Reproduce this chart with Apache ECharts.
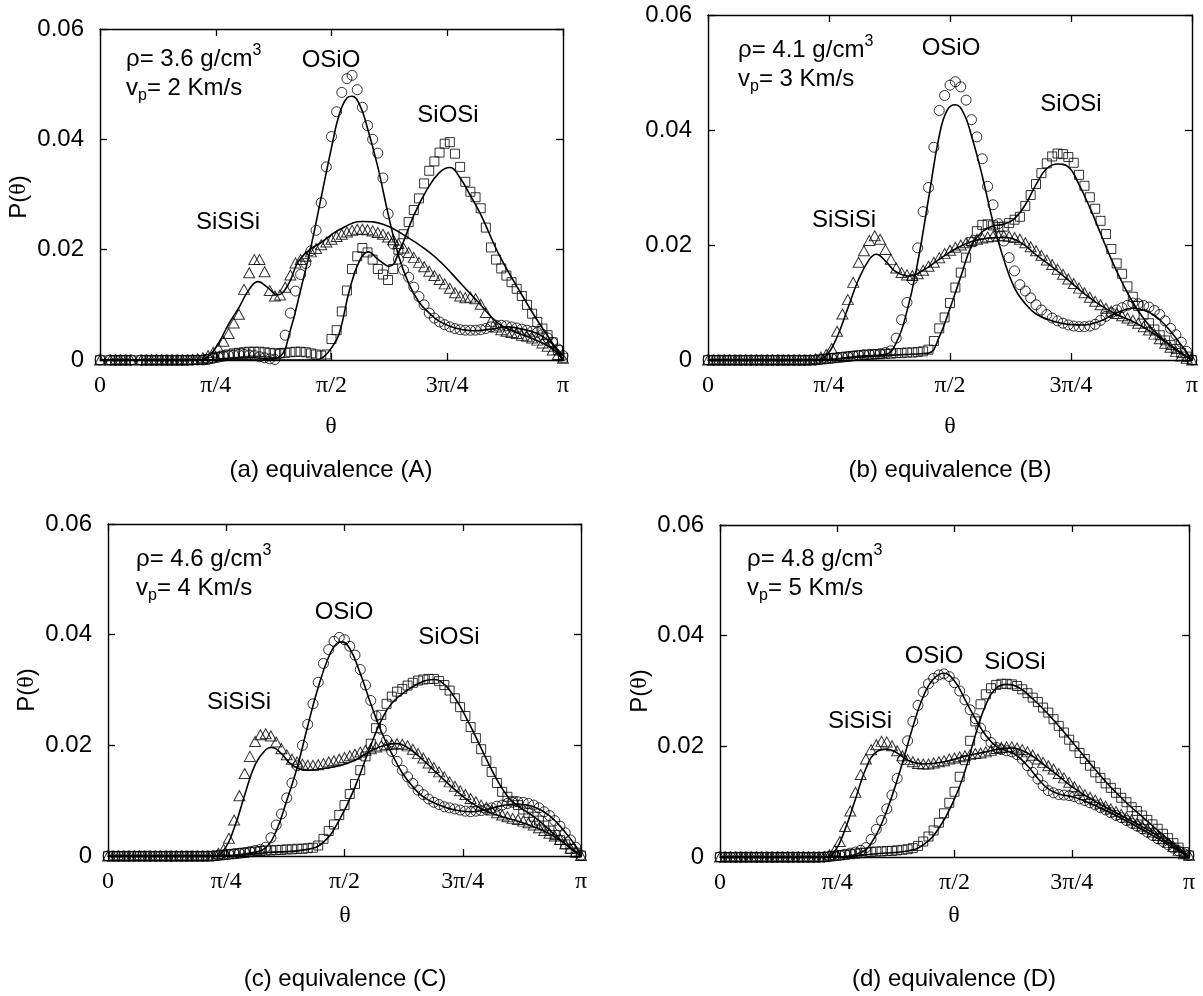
<!DOCTYPE html>
<html>
<head>
<meta charset="utf-8">
<script src="https://cdn.jsdelivr.net/npm/echarts@6/dist/echarts.min.js"></script>
<style>
  html, body { margin: 0; padding: 0; background: #fff; }
  #chart { width: 1203px; height: 996px; }
</style>
</head>
<body>
<div id="chart"></div>
<script>
// Bond-angle distributions P(theta) for four shock states.
// Angles in degrees (2 degree bins); P values in units of 1e-3; null = empty bin.
const angles = [
  0, 2, 4, 6, 8, 10, 12, 14, 16, 18,
  20, 22, 24, 26, 28, 30, 32, 34, 36, 38,
  40, 42, 44, 46, 48, 50, 52, 54, 56, 58,
  60, 62, 64, 66, 68, 70, 72, 74, 76, 78,
  80, 82, 84, 86, 88, 90, 92, 94, 96, 98,
  100, 102, 104, 106, 108, 110, 112, 114, 116, 118,
  120, 122, 124, 126, 128, 130, 132, 134, 136, 138,
  140, 142, 144, 146, 148, 150, 152, 154, 156, 158,
  160, 162, 164, 166, 168, 170, 172, 174, 176, 178,
  180
];
const thetaTicks = ['0', 'π/4', 'π/2', '3π/4', 'π'];
const speciesNames = ['SiSiSi', 'OSiO', 'SiOSi'];

// (a) equivalence A
const triA = [
  0,null,0,0,0,0,0,null,0,0,
  0,0,0,0,0,0,0,0,0.1,0.2,
  0.4,0.8,1.4,2.2,3.4,4.8,6.7,8.3,12.8,15.8,
  18.2,18.2,16.0,12.6,11.6,11.8,13.2,15.4,17.6,18.2,
  18.8,19.6,20.2,20.9,21.4,21.9,22.4,22.8,23.2,23.5,
  23.7,23.7,23.6,23.4,23.1,22.8,22.3,21.8,21.1,20.3,
  19.5,18.6,17.7,16.9,16.1,15.3,14.6,13.8,13.0,12.2,
  11.6,11.3,11.4,11.1,10.1,8.6,7.0,6.0,5.5,5.2,
  5.0,4.8,4.5,4.3,4.0,3.6,3.1,2.5,1.8,1.0,
  0.3
];
const circA = [
  0,null,0,0,0,0,0,null,0,0,
  0,0,0,0,0,0,0,0,0,0,
  0,0.1,0.3,0.5,0.7,0.8,0.9,1.0,1.0,0.9,
  0.8,0.6,0.4,0.2,0.1,1.2,4.5,8.5,12.5,15.5,
  17.5,19.8,23.5,28.5,35.0,40.5,45.0,48.5,51.0,51.6,
  49.0,45.8,42.5,40.0,37.5,33.0,26.5,21.0,18.3,16.3,
  15.0,13.2,11.5,10.0,8.5,7.6,6.9,6.4,6.0,5.7,
  5.5,5.4,5.4,5.4,5.5,5.7,6.0,6.3,6.3,6.2,
  6.0,5.8,5.6,5.4,5.2,5.0,4.6,4.0,3.2,2.0,
  0.8
];
const sqA = [
  0,null,0,0,0,0,0,null,0,0,
  0,0,0,0,0,0,0,0,0,0,
  0,0.2,0.4,0.6,0.8,1.0,1.2,1.3,1.4,1.5,
  1.5,1.5,1.4,1.3,1.2,1.2,1.3,1.4,1.5,1.5,
  1.4,1.2,1.0,0.8,1.0,3.8,5.4,8.8,12.6,16.5,
  18.8,20.3,19.5,18.2,16.5,15.5,14.5,16.5,20.0,22.8,
  25.0,27.2,29.3,32.0,34.3,36.0,37.6,39.2,39.5,37.4,
  35.0,32.3,30.5,29.5,27.5,24.0,20.4,18.2,16.6,15.3,
  14.1,12.9,11.6,10.0,8.4,6.9,5.7,4.5,3.2,1.8,
  0.4
];
const triFitA = [[0,0],[38,0],[42,0.6],[46,3],[50,6.5],[54,9.5],[58,12.8],[61.5,14.2],[65,13.2],[69,11.8],[73,13.5],[77,17.8],[81,19.8],[86,21.3],[93,23.6],[102,25.1],[110,24.6],[119,22.4],[127,19.9],[133,17.5],[140,14],[147,10.5],[155,6.6],[162,5],[170,3.5],[176,2],[180,0]];
const circFitA = [[0,0],[40,0],[50,0.3],[60,0.4],[66,0.2],[70,0.6],[74,5.4],[78,12.7],[82,20.5],[86,29.5],[90,38.5],[93,44.5],[96,47.5],[98,47.8],[101,46.2],[104,42],[108,35],[112,26.5],[116,19],[120,13.9],[124,10.5],[128,8.5],[132,7],[138,5.8],[145,5.3],[152,5.6],[158,6.0],[164,5.6],[170,4.8],[175,3.3],[180,0.8]];
const sqFitA = [[0,0],[84,0],[87,0.6],[90,2.2],[93,4.8],[97,12.7],[101,18.1],[104.3,19.6],[108,18.3],[112.5,17],[116.5,19.9],[121.8,26],[127,30.8],[132,34],[136,34.9],[140,33],[144,29.8],[148,26.4],[155,19.2],[163,12.6],[170,7.2],[176,3],[180,0]];

// (b) equivalence B
const triB = [
  0,0,0,0,0,0,0,0,0,0,
  0,0,0,0,0,0,0,0,0,0,
  0.2,0.5,1.0,2.0,5.0,8.0,10.5,13.5,17.0,19.0,
  20.8,21.6,21.0,19.2,17.5,16.0,15.2,14.8,14.7,15.0,
  15.6,16.3,17.0,17.8,18.5,19.1,19.6,20.0,20.4,20.8,
  21.0,21.2,21.4,21.5,21.6,21.6,21.5,21.3,21.0,20.4,
  19.7,19.0,18.2,17.4,16.6,15.8,14.9,14.1,13.3,12.5,
  11.7,10.9,10.2,9.6,9.0,8.5,8.1,7.7,7.3,6.9,
  6.4,5.8,5.2,4.5,3.7,2.9,2.2,1.5,0.7,0.3,
  0
];
const circB = [
  0,0,0,0,0,0,0,0,0,0,
  0,0,0,0,0,0,0,0,0,0,
  0,0.1,0.2,0.3,0.4,0.5,0.6,0.7,0.8,0.9,
  1.0,1.0,1.1,1.3,1.6,3.8,7.0,10.0,14.0,19.5,
  25.8,30.0,37.0,43.4,46.0,47.8,48.4,47.5,45.2,41.8,
  38.8,35.0,30.2,27.0,23.7,20.7,17.8,15.5,13.1,12.0,
  10.8,9.6,8.7,7.9,7.3,6.8,6.4,6.1,5.9,5.8,
  5.8,5.9,6.2,6.9,7.6,8.2,8.7,9.1,9.5,9.9,
  9.8,9.5,9.2,8.6,7.9,6.8,5.5,4.4,3.1,1.5,
  0
];
const sqB = [
  0,0,0,0,0,0,0,0,0,0,
  0,0,0,0,0,0,0,0,0,0,
  0,0.1,0.2,0.3,0.4,0.5,0.6,0.7,0.8,0.9,
  0.9,1.0,1.0,1.1,1.1,1.2,1.2,1.3,1.3,1.4,
  1.5,1.8,3.3,5.5,7.4,9.9,12.6,15.2,17.8,20.5,
  22.4,23.5,23.6,23.4,23.1,23.2,23.8,24.4,24.9,26.8,
  28.7,30.6,32.5,34.2,35.4,35.9,35.8,35.3,34.3,32.2,
  30.3,28.3,26.3,24.2,21.9,19.3,16.8,15.0,12.8,11.0,
  9.4,7.9,6.4,5.3,4.3,3.4,2.6,1.9,1.2,0.6,
  0
];
const triFitB = [[0,0],[40,0],[44,0.8],[48,4],[52,9],[56,14],[60,17.5],[62.6,18.4],[66,17.2],[70,15.3],[75,14.6],[80,15.6],[86,17.5],[92,19.3],[98,20.6],[104,21.2],[110,21.3],[116,20.5],[122,18.3],[128,16.2],[134,13.9],[140,11.5],[146,9.5],[152,7.9],[158,6.7],[164,5.1],[170,3.2],[175,1.4],[180,0]];
const circFitB = [[0,0],[42,0],[55,0.6],[66,1.0],[70,3],[74,8.5],[78,17],[82,28],[86,39],[89,43.5],[92,44.4],[95,43],[98,39],[102,32],[106,24],[110,17.5],[114,12.5],[118,9.8],[122,8],[128,6.8],[134,6.2],[140,6.1],[146,6.8],[152,8.2],[158,9.0],[164,8.3],[168,7.0],[172,5.0],[176,2.6],[180,0]];
const sqFitB = [[0,0],[40,0],[60,0.6],[75,1.0],[82,1.2],[86,4],[90,9],[94,14.5],[98,19.8],[102,22.3],[106,23.3],[110,23.6],[114,24.6],[118,27],[122,30.5],[126,33.3],[130,34.1],[134,33.6],[138,30.5],[142,26.5],[146,22],[150,17.5],[154,13.5],[158,10],[162,7.2],[166,5],[170,3.3],[175,1.6],[180,0]];

// (c) equivalence C
const triC = [
  0,0,0,0,0,0,0,0,0,0,
  0,0,0,0,0,0,0,0,0,0,
  0.1,0.5,1.2,3.2,6.5,10.9,14.9,18.0,20.7,21.9,
  22.1,21.7,20.6,19.4,18.3,17.5,17.0,16.6,16.4,16.4,
  16.5,16.7,17.0,17.2,17.5,17.8,18.1,18.4,18.8,19.1,
  19.4,19.7,19.9,20.1,20.2,20.3,20.2,19.9,19.3,18.5,
  17.7,16.8,16.0,15.2,14.3,13.4,12.6,11.8,11.1,10.4,
  9.8,9.2,8.8,8.3,7.8,7.4,7.1,6.8,6.6,6.3,
  6.0,5.6,5.1,4.6,4.1,3.6,3.0,2.2,1.4,0.7,
  0.1
];
const circC = [
  0,0,0,0,0,0,0,0,0,0,
  0,0,0,0,0,0,0,0,0,0,
  0,0.1,0.2,0.3,0.4,0.5,0.6,0.8,1.0,1.2,
  1.6,3.3,5.6,7.6,10.5,13.2,16.3,20.0,23.8,27.5,
  31.4,34.8,37.3,38.8,39.5,39.1,37.9,36.3,33.7,30.9,
  28.1,25.3,22.9,20.9,18.9,17.1,15.5,14.3,13.1,11.9,
  11.1,10.3,9.7,9.3,8.9,8.7,8.5,8.3,8.1,8.0,
  8.1,8.2,8.4,8.7,9.0,9.2,9.5,9.7,9.8,9.7,
  9.5,9.2,8.7,8.0,7.3,6.4,5.4,4.2,2.9,1.6,
  0.1
];
const sqC = [
  0,0,0,0,0,0,0,0,0,0,
  0,0,0,0,0,0,0,0,0,0,
  0,0.1,0.2,0.3,0.4,0.5,0.6,0.7,0.8,0.9,
  1.0,1.0,1.1,1.1,1.2,1.2,1.3,1.3,1.4,1.5,
  1.9,3.1,4.5,5.7,7.4,9.2,11.2,13.0,15.5,18.0,
  20.3,23.1,25.5,27.5,28.8,29.7,30.2,30.8,31.3,31.7,
  31.9,32.0,32.0,31.6,30.9,29.9,28.5,26.9,25.3,23.3,
  21.3,19.3,17.2,15.2,13.2,11.6,10.7,9.9,9.2,8.4,
  7.8,7.1,6.4,5.5,4.6,3.8,2.9,2.1,1.3,0.6,
  0.1
];
const triFitC = [[0,0],[40,0],[44,1],[48,5],[52,11],[56,16.5],[60,19.2],[62.4,19.6],[66,18.5],[70,16.5],[76,15.5],[82,15.8],[88,16.3],[94,17.3],[100,19],[106,20.1],[110,20.3],[114,19.6],[120,17.3],[126,14.6],[132,12],[138,9.7],[144,8.1],[150,7.1],[156,6.3],[162,5.3],[168,4],[174,2.2],[180,0]];
const circFitC = [[0,0],[44,0],[56,0.7],[60,1.5],[64,4.5],[68,10],[72,16],[76,23.5],[80,30.5],[84,36],[87,38.4],[89,38.7],[92,37.5],[96,33],[100,27.5],[104,22.5],[108,18.5],[112,15],[116,12.5],[120,10.7],[126,9.2],[132,8.3],[138,8.0],[144,8.4],[150,9.1],[156,9.4],[162,8.9],[168,7.3],[174,4.3],[178,1.8],[180,0]];
const sqFitC = [[0,0],[44,0],[60,0.6],[76,1.2],[82,2.5],[88,6.5],[94,12.5],[100,20],[104,24.5],[108,27.6],[114,30],[120,31.6],[124,31.9],[128,31],[132,28.6],[136,25.3],[140,21.5],[144,17.5],[148,13.8],[152,10.8],[156,9],[160,7.8],[164,6.4],[168,4.7],[172,3],[176,1.4],[180,0]];

// (d) equivalence D
const triD = [
  0,0,0,0,0,0,0,0,0,0,
  0,0,0,0,0,0,0,0,0,0,
  0.1,0.4,1.2,2.8,5.5,8.3,11.7,14.9,17.7,19.4,
  20.3,20.9,20.8,20.1,19.2,18.3,17.6,17.2,16.9,16.8,
  16.8,17.0,17.2,17.4,17.7,17.9,18.1,18.3,18.5,18.7,
  18.8,19.0,19.3,19.6,19.8,19.9,19.9,19.7,19.4,19.0,
  18.4,17.7,17.1,16.5,15.9,15.1,14.3,13.5,12.7,12.0,
  11.3,10.8,10.3,9.7,9.2,8.7,8.2,7.7,7.2,6.7,
  6.1,5.6,5.1,4.5,3.9,3.3,2.6,1.9,1.2,0.6,
  0.3
];
const circD = [
  0,0,0,0,0,0,0,0,0,0,
  0,0,0,0,0,0,0,0,0,0,
  0,0.1,0.2,0.3,0.5,0.7,0.9,1.2,1.7,3.2,
  5.0,6.6,8.7,11.2,14.2,17.6,21.0,24.5,27.4,29.8,
  31.3,32.3,32.9,33.1,32.6,31.5,30.0,28.4,26.6,25.0,
  23.3,21.9,20.7,19.8,19.4,19.2,19.0,18.5,17.7,16.5,
  15.3,14.1,12.9,12.0,11.6,11.3,11.2,11.1,10.9,10.5,
  10.2,9.8,9.4,8.9,8.5,8.0,7.5,7.1,6.6,6.1,
  5.6,5.1,4.5,3.9,3.3,2.8,2.2,1.6,1.1,0.6,
  0.3
];
const sqD = [
  0,0,0,0,0,0,0,0,0,0,
  0,0,0,0,0,0,0,0,0,0,
  0,0.1,0.2,0.3,0.4,0.5,0.6,0.7,0.8,0.9,
  1.0,1.0,1.1,1.1,1.2,1.3,1.4,1.6,2.0,2.8,
  3.7,4.8,6.2,7.9,9.8,11.8,14.5,17.5,21.0,24.5,
  27.6,29.4,30.5,31.1,31.3,31.3,31.2,30.9,30.3,29.6,
  28.8,28.0,27.0,26.1,24.9,23.7,22.5,21.2,20.0,18.8,
  17.7,16.5,15.3,14.3,13.3,12.5,11.6,10.7,9.9,9.0,
  8.3,7.5,6.7,5.9,5.1,4.2,3.4,2.5,1.7,0.9,
  0.3
];
const triFitD = [[0,0],[40,0],[44,1],[48,5],[52,10.5],[56,16],[60,19],[64,19.5],[68,18.8],[72,17.5],[78,16.8],[86,17.2],[94,18.2],[102,19],[108,19.6],[112,19.7],[118,18.8],[124,16.8],[130,14.6],[136,12.4],[142,10.6],[148,9.0],[154,7.5],[160,6.0],[166,4.4],[172,2.6],[176,1.3],[180,0]];
const circFitD = [[0,0],[44,0],[54,0.8],[58,2.5],[62,6],[66,11],[70,17],[74,23.5],[78,29],[82,32.2],[86,33.2],[90,31.8],[94,28.5],[98,25],[102,22],[106,20],[110,19.2],[114,18.3],[118,16.5],[122,14.2],[126,12.3],[130,11.4],[136,10.8],[142,9.7],[148,8.4],[154,7.0],[160,5.5],[166,3.9],[172,2.2],[176,1.1],[180,0]];
const sqFitD = [[0,0],[44,0],[60,0.6],[72,1.1],[78,2.2],[84,5.2],[90,10.5],[94,15.5],[98,22],[102,27.5],[106,30.5],[110,31.2],[114,30.8],[120,28.6],[126,25.8],[132,22.6],[138,19.2],[144,15.8],[150,12.6],[156,9.8],[162,7.3],[168,4.8],[174,2.4],[178,0.8],[180,0]];

// Panel descriptions: data + state labels
const densities = ['3.6', '4.1', '4.6', '4.8'];
const speeds = ['2', '3', '4', '5'];
const captions = ['(a) equivalence (A)', '(b) equivalence (B)', '(c) equivalence (C)', '(d) equivalence (D)'];
const panelData = [
  { tri: triA, circ: circA, sq: sqA, triFit: triFitA, circFit: circFitA, sqFit: sqFitA },
  { tri: triB, circ: circB, sq: sqB, triFit: triFitB, circFit: circFitB, sqFit: sqFitB },
  { tri: triC, circ: circC, sq: sqC, triFit: triFitC, circFit: circFitC, sqFit: sqFitC },
  { tri: triD, circ: circD, sq: sqD, triFit: triFitD, circFit: circFitD, sqFit: sqFitD }
];

// Page layout (pixels): plot frames and text anchors
const frames = [
  { x0: 100, x1: 563, y0: 29, y1: 360 },
  { x0: 708, x1: 1192, y0: 15, y1: 360 },
  { x0: 108, x1: 581, y0: 524, y1: 856 },
  { x0: 720, x1: 1189, y0: 525, y1: 857 }
];
const textSpots = [
  { state: [126, 59, 88], OSiO: [331, 60], SiOSi: [448, 115], SiSiSi: [228, 222], yName: [19, 197], xName: [331, 427], cap: [331, 470] },
  { state: [738, 50, 79], OSiO: [951, 48], SiOSi: [1071, 104], SiSiSi: [844, 220], yName: null, xName: [950, 427], cap: [950, 470] },
  { state: [136, 559, 588], OSiO: [344, 612], SiOSi: [449, 637], SiSiSi: [239, 702], yName: [27, 690], xName: [345, 916], cap: [345, 979] },
  { state: [747, 559, 588], OSiO: [934, 656], SiOSi: [1015, 662], SiSiSi: [860, 721], yName: [640, 691], xName: [954, 916], cap: [954, 979] }
];

const SANS = '"Liberation Sans", Arial, Helvetica, sans-serif';
const SERIF = '"Liberation Serif", "Times New Roman", serif';
const INK = '#000';

const grids = [], xAxes = [], yAxes = [], series = [], graphics = [];

function axisCommon(extra) {
  return Object.assign({
    axisLine: { show: true, onZero: false, lineStyle: { color: INK, width: 1.4 } },
    axisTick: { show: true, inside: true, length: 7, lineStyle: { color: INK, width: 1.3 } },
    splitLine: { show: false },
    minorTick: { show: false }
  }, extra);
}

function textEl(x, y, text, opt) {
  opt = opt || {};
  return {
    type: 'text', x: x, y: y, rotation: opt.rotation || 0, silent: true,
    style: {
      text: text,
      fill: INK,
      font: (opt.size || 24) + 'px ' + (opt.family || SANS),
      fontSize: opt.size || 24,
      fontFamily: opt.family || SANS,
      align: opt.align || 'center',
      verticalAlign: 'middle',
      textAlign: opt.align || 'center',
      textVerticalAlign: 'middle',
      rich: opt.rich
    }
  };
}

const richBase = {
  b: { fontSize: 24, fontFamily: SANS, lineHeight: 32, verticalAlign: 'middle', fill: INK, color: INK },
  sup: { fontSize: 16, fontFamily: SANS, lineHeight: 14, verticalAlign: 'top', fill: INK, color: INK },
  sub: { fontSize: 16, fontFamily: SANS, lineHeight: 12, verticalAlign: 'bottom', fill: INK, color: INK },
  t: { fontSize: 24, fontFamily: SERIF, lineHeight: 32, verticalAlign: 'middle', fill: INK, color: INK }
};

frames.forEach(function (f, i) {
  grids.push({ left: f.x0, top: f.y0, width: f.x1 - f.x0, height: f.y1 - f.y0, containLabel: false });

  xAxes.push(axisCommon({
    type: 'value', gridIndex: i, position: 'bottom', min: 0, max: 180, interval: 45,
    axisLabel: {
      show: true, margin: 14, color: INK, fontFamily: SERIF, fontSize: 24,
      formatter: function (v) { return thetaTicks[Math.round(v / 45)]; }
    }
  }));
  xAxes.push(axisCommon({
    type: 'value', gridIndex: i, position: 'top', min: 0, max: 180, interval: 45,
    axisLabel: { show: false }
  }));
  yAxes.push(axisCommon({
    type: 'value', gridIndex: i, position: 'left', min: 0, max: 0.06, interval: 0.02,
    axisLabel: {
      show: true, margin: 16, color: INK, fontFamily: SANS, fontSize: 24,
      formatter: function (v) { return v === 0 ? '0' : v.toFixed(2); }
    }
  }));
  yAxes.push(axisCommon({
    type: 'value', gridIndex: i, position: 'right', min: 0, max: 0.06, interval: 0.02,
    axisLabel: { show: false }
  }));

  const d = panelData[i];
  const ax = { xAxisIndex: 2 * i, yAxisIndex: 2 * i };
  const markers = [
    { vals: d.tri, symbol: 'triangle', size: [11, 10], name: speciesNames[0] },
    { vals: d.circ, symbol: 'circle', size: 10, name: speciesNames[1] },
    { vals: d.sq, symbol: 'rect', size: 9, name: speciesNames[2] }
  ];
  markers.forEach(function (m) {
    const pts = [];
    angles.forEach(function (a, k) {
      if (m.vals[k] !== null) pts.push([a, m.vals[k] / 1000]);
    });
    series.push(Object.assign({
      type: 'scatter', name: m.name, data: pts,
      symbol: m.symbol, symbolSize: m.size,
      itemStyle: { color: 'rgba(255,255,255,0)', borderColor: INK, borderWidth: 1 },
      emphasis: { disabled: true }, silent: true, clip: false, z: 2
    }, ax));
  });
  [d.triFit, d.circFit, d.sqFit].forEach(function (fit, k) {
    series.push(Object.assign({
      type: 'line', name: speciesNames[k] + ' fit',
      data: fit.map(function (p) { return [p[0], p[1] / 1000]; }),
      smooth: 0.45, symbol: 'none',
      lineStyle: { color: INK, width: 1.6 },
      silent: true, z: 3
    }, ax));
  });

  // text annotations
  const s = textSpots[i];
  graphics.push(textEl(s.state[0], s.state[1], '{b|ρ= ' + densities[i] + ' g/cm}{sup|3}', { align: 'left', rich: richBase }));
  graphics.push(textEl(s.state[0], s.state[2], '{b|v}{sub|p}{b|= ' + speeds[i] + ' Km/s}', { align: 'left', rich: richBase }));
  graphics.push(textEl(s.OSiO[0], s.OSiO[1], 'OSiO'));
  graphics.push(textEl(s.SiOSi[0], s.SiOSi[1], 'SiOSi'));
  graphics.push(textEl(s.SiSiSi[0], s.SiSiSi[1], 'SiSiSi'));
  if (s.yName) {
    graphics.push(textEl(s.yName[0], s.yName[1], '{b|P(}{t|θ}{b|)}', { rotation: Math.PI / 2, rich: richBase }));
  }
  graphics.push(textEl(s.xName[0], s.xName[1], 'θ', { family: SERIF }));
  graphics.push(textEl(s.cap[0], s.cap[1], captions[i]));
});

const chart = echarts.init(document.getElementById('chart'), null, { renderer: 'canvas' });
chart.setOption({
  animation: false,
  backgroundColor: '#fff',
  grid: grids,
  xAxis: xAxes,
  yAxis: yAxes,
  series: series,
  graphic: graphics
});
</script>
</body>
</html>
